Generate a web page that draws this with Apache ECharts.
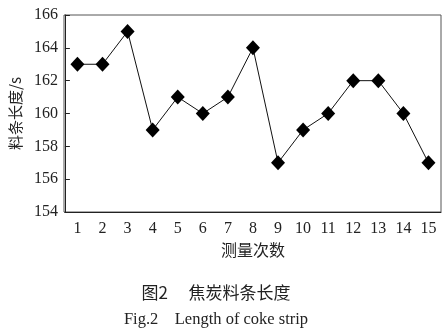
<!DOCTYPE html>
<html><head><meta charset="utf-8">
<script src="https://cdn.jsdelivr.net/npm/echarts@6/dist/echarts.min.js"></script>
<style>html,body{margin:0;padding:0;background:#fff}#c{width:447px;height:334px}</style>
</head><body><div id="c"></div>
<script>
const categories = ['1','2','3','4','5','6','7','8','9','10','11','12','13','14','15'];
const values = [163,163,165,159,161,160,161,164,157,159,160,162,162,160,157];
const yTicks = [154,156,158,160,162,164,166];
const yName = '料条长度/s';
const xName = '测量次数';
const titleCn = '图2　 焦炭料条长度';
const titleEn = 'Fig.2    Length of coke strip';

const serif = '"Liberation Serif","DejaVu Serif",serif';
const cjk = '"Noto Sans CJK SC",sans-serif';
const chart = echarts.init(document.getElementById('c'));
chart.setOption({
  animation:false,
  backgroundColor:'#fff',
  grid:{left:64,right:6,top:15,bottom:122},
  xAxis:{type:'category',data:categories,boundaryGap:true,
    name:xName,nameLocation:'middle',nameGap:27,
    nameTextStyle:{fontFamily:cjk,fontSize:16,color:'#222'},
    axisLine:{lineStyle:{color:'#222',width:1}},
    axisTick:{inside:true,length:5,alignWithLabel:false,lineStyle:{color:'#222'}},
    axisLabel:{fontFamily:serif,fontSize:16,color:'#222',margin:9}},
  yAxis:{type:'value',min:yTicks[0],max:yTicks[yTicks.length-1],interval:2,
    name:yName,nameLocation:'middle',nameGap:39,
    nameTextStyle:{fontFamily:cjk,fontSize:15,color:'#222'},
    axisLine:{show:true,lineStyle:{color:'#222',width:1}},
    axisTick:{show:true,inside:true,length:5,lineStyle:{color:'#222'}},
    splitLine:{show:false},
    axisLabel:{fontFamily:serif,fontSize:16,color:'#222',margin:7}},
  graphic:[
    {type:'rect',shape:{x:64,y:15,width:377,height:197},style:{fill:'none',stroke:'#555',lineWidth:1},silent:true,z:0},
    {type:'text',x:216,y:293,style:{text:titleCn,font:'17px '+cjk,fill:'#222',textAlign:'center',textVerticalAlign:'middle'}},
    {type:'text',x:216,y:320,style:{text:titleEn,font:'16.5px '+serif,fill:'#222',textAlign:'center',textVerticalAlign:'middle'}}
  ],
  series:[{type:'line',data:values,symbol:'diamond',symbolSize:[14,15],
    lineStyle:{color:'#111',width:1},itemStyle:{color:'#000'},z:5}]
});
</script></body></html>
